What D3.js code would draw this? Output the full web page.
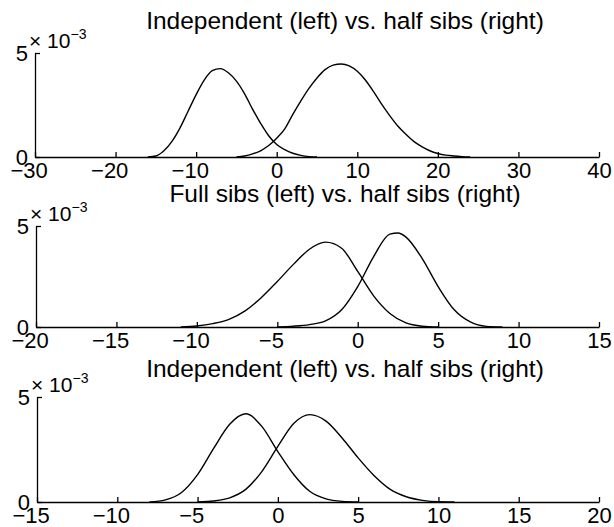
<!DOCTYPE html>
<html>
<head>
<meta charset="utf-8">
<script src="https://cdn.jsdelivr.net/npm/d3@7"></script>
<style>
  body { margin: 0; background: #fff; }
  svg text { font-family: "Liberation Sans", Arial, sans-serif; fill: #000; }
  .tick text { font-size: 22px; }
  .title { font-size: 24.5px; }
  .expo { font-size: 21px; }
</style>
</head>
<body>
<div id="chart"></div>
<script>
// ---- data (density values in units of 1e-3) ----
const titles = [
  'Independent (left) vs. half sibs (right)',
  'Full sibs (left) vs. half sibs (right)',
  'Independent (left) vs. half sibs (right)'
];
const xDomains = [[-30, 40], [-20, 15], [-15, 20]];
const xTicks = [
  [-30, -20, -10, 0, 10, 20, 30, 40],
  [-20, -15, -10, -5, 0, 5, 10, 15],
  [-15, -10, -5, 0, 5, 10, 15, 20]
];
const yTicks = [0, 5];

// panel 1
const p1Left = [[-16, 0], [-15, 0.05], [-14, 0.3], [-13, 0.75], [-12, 1.4], [-11, 2.2], [-10, 3.0], [-9, 3.7],
  [-8, 4.15], [-7, 4.25], [-6, 4.05], [-5, 3.65], [-4, 3.05], [-3, 2.3], [-2, 1.62], [-1, 1.02], [0, 0.6],
  [1, 0.35], [2, 0.18], [3, 0.08], [4, 0.02], [5, 0]];
const p1Right = [[-5, 0], [-4, 0.05], [-3, 0.15], [-2, 0.3], [-1, 0.55], [0, 0.9], [1, 1.35], [2, 2.05], [3, 2.7],
  [4, 3.3], [5, 3.8], [6, 4.2], [7, 4.42], [8, 4.47], [9, 4.38], [10, 4.12], [11, 3.7], [12, 3.15], [13, 2.55],
  [14, 2.0], [15, 1.5], [16, 1.1], [17, 0.75], [18, 0.5], [19, 0.3], [20, 0.17], [21, 0.09], [22, 0.05],
  [23, 0.02], [24, 0]];

// panel 2
const p2Left = [[-11, 0], [-10, 0.05], [-9, 0.17], [-8, 0.38], [-7, 0.8], [-6, 1.45], [-5, 2.25], [-4, 3.1],
  [-3, 3.85], [-2, 4.2], [-1, 3.9], [0, 2.75], [1, 1.53], [2, 0.67], [3, 0.2], [4, 0.04], [5, 0]];
const p2Right = [[-5, 0], [-4, 0.04], [-3, 0.12], [-2, 0.3], [-1, 0.85], [0, 2.0], [1, 3.5], [2, 4.6],
  [2.5, 4.65], [3, 4.45], [4, 3.4], [5, 2.0], [6, 0.85], [7, 0.25], [8, 0.03], [9, 0]];

// panel 3
const p3Left = [[-8, 0], [-7, 0.1], [-6, 0.45], [-5, 1.3], [-4, 2.55], [-3, 3.7], [-2, 4.2], [-1, 3.6],
  [0, 2.4], [1, 1.3], [2, 0.5], [3, 0.15], [4, 0.03], [5, 0]];
const p3Right = [[-5, 0], [-4, 0.05], [-3, 0.2], [-2, 0.6], [-1, 1.45], [0, 2.65], [1, 3.75], [2, 4.16],
  [3, 3.85], [4, 3.05], [5, 2.1], [6, 1.25], [7, 0.6], [8, 0.25], [9, 0.08], [10, 0.01], [11, 0]];

const curves = [[p1Left, p1Right], [p2Left, p2Right], [p3Left, p3Right]];

// ---- layout ----
const W = 614, H = 527;
const panels = [
  {left: 35, right: 599, top: 53, bottom: 157, titleY: 29},
  {left: 36, right: 599, top: 226, bottom: 327, titleY: 202},
  {left: 37, right: 599, top: 397, bottom: 502, titleY: 377}
];

const svg = d3.select('#chart').append('svg')
  .attr('width', W).attr('height', H);

panels.forEach((p, i) => {
  const x = d3.scaleLinear().domain(xDomains[i]).range([p.left, p.right]);
  const y = d3.scaleLinear().domain([0, 5]).range([p.bottom, p.top]);
  const g = svg.append('g');

  // x axis, ticks pointing inward; minus sign hangs left of the centred digits
  const xa = g.append('g')
    .attr('transform', `translate(0,${p.bottom})`)
    .call(d3.axisBottom(x).tickValues(xTicks[i]).tickSizeInner(-5).tickSizeOuter(0).tickPadding(0));
  xa.selectAll('text').attr('y', 21).attr('dy', null)
    .attr('dx', d => d < 0 ? '-0.29em' : null);

  // y axis
  g.append('g')
    .attr('transform', `translate(${p.left},0)`)
    .call(d3.axisLeft(y).tickValues(yTicks).tickFormat(d3.format('d'))
      .tickSizeInner(-5).tickSizeOuter(0).tickPadding(7));

  g.selectAll('.domain, .tick line').attr('stroke', '#000').attr('stroke-width', 1.3);

  // exponent label
  const ex = g.append('text').attr('class', 'expo')
    .attr('x', p.left - 6).attr('y', p.top - 5);
  ex.append('tspan').text('× 10');
  ex.append('tspan').attr('dy', -9).style('font-size', '14px').text('−3');

  // title
  g.append('text').attr('class', 'title')
    .attr('x', 345).attr('y', p.titleY).attr('text-anchor', 'middle')
    .text(titles[i]);

  // curves
  const line = d3.line().x(d => x(d[0])).y(d => y(d[1])).curve(d3.curveMonotoneX);
  curves[i].forEach(c => {
    g.append('path').attr('d', line(c))
      .attr('fill', 'none').attr('stroke', '#000').attr('stroke-width', 1.4);
  });
});
</script>
</body>
</html>
